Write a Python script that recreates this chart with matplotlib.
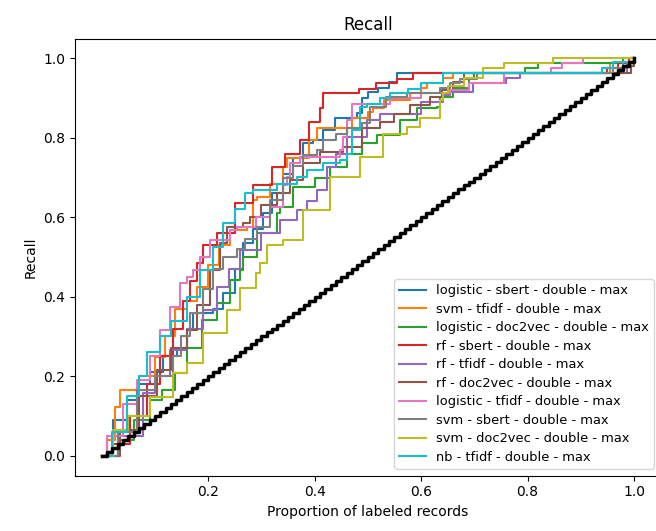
import numpy as np
import matplotlib
matplotlib.use("Agg")
import matplotlib.pyplot as plt

# recall curves: (proportion of labeled records, recall) knots
labels = [
    "logistic - sbert - double - max",
    "svm - tfidf - double - max",
    "logistic - doc2vec - double - max",
    "rf - sbert - double - max",
    "rf - tfidf - double - max",
    "rf - doc2vec - double - max",
    "logistic - tfidf - double - max",
    "svm - sbert - double - max",
    "svm - doc2vec - double - max",
    "nb - tfidf - double - max",
]

logistic_sbert_x = [0, 0.01, 0.022, 0.047, 0.066, 0.09, 0.116, 0.141, 0.16, 0.172, 0.19, 0.21, 0.228,
                    0.25, 0.266, 0.285, 0.304, 0.32, 0.341, 0.36, 0.379, 0.397, 0.416, 0.438, 0.48,
                    0.49, 0.5, 0.52, 0.54, 0.554, 0.96, 0.98, 1.0]
logistic_sbert_y = [0, 0.04, 0.09, 0.14, 0.18, 0.21, 0.25, 0.27, 0.32, 0.36, 0.36, 0.37, 0.41,
                    0.47, 0.535, 0.57, 0.61, 0.66, 0.71, 0.75, 0.786, 0.794, 0.82, 0.85, 0.862,
                    0.9, 0.916, 0.925, 0.94, 0.9625, 0.9625, 0.99, 1.0]

svm_tfidf_x = [0, 0.01, 0.025, 0.035, 0.05, 0.07, 0.1, 0.119, 0.138, 0.16, 0.179, 0.2, 0.22, 0.241,
               0.273, 0.285, 0.291, 0.316, 0.341, 0.348, 0.39, 0.404, 0.46, 0.47, 0.5, 0.51, 0.53,
               0.58, 0.6, 0.611, 0.641, 0.66, 0.945, 0.955, 0.99, 1.0]
svm_tfidf_y = [0, 0.04, 0.123, 0.165, 0.165, 0.2, 0.249, 0.3, 0.37, 0.39, 0.425, 0.48, 0.53, 0.568,
               0.576, 0.643, 0.652, 0.685, 0.727, 0.75, 0.794, 0.824, 0.824, 0.85, 0.865, 0.875, 0.895,
               0.912, 0.925, 0.937, 0.95, 0.9625, 0.9625, 0.9875, 1.0, 1.0]

logistic_doc2vec_x = [0, 0.03, 0.06, 0.09, 0.113, 0.125, 0.138, 0.16, 0.188, 0.216, 0.241, 0.26, 0.266,
                      0.291, 0.329, 0.335, 0.36, 0.4, 0.429, 0.46, 0.49, 0.517, 0.56, 0.592, 0.63,
                      0.636, 0.66, 0.69, 0.7, 0.795, 0.82, 0.96, 0.98, 1.0]
logistic_doc2vec_y = [0, 0.04, 0.09, 0.14, 0.165, 0.165, 0.208, 0.27, 0.341, 0.383, 0.442, 0.467, 0.5,
                      0.56, 0.61, 0.626, 0.677, 0.7, 0.727, 0.76, 0.786, 0.807, 0.845, 0.875, 0.878,
                      0.903, 0.925, 0.95, 0.9625, 0.975, 0.9875, 0.9875, 1.0, 1.0]

rf_sbert_x = [0, 0.02, 0.054, 0.085, 0.11, 0.134, 0.153, 0.166, 0.179, 0.19, 0.216, 0.25, 0.285,
              0.32, 0.345, 0.373, 0.39, 0.41, 0.416, 0.483, 0.516, 0.554, 0.585, 0.93, 0.95, 0.97,
              0.99, 1.0]
rf_sbert_y = [0, 0.03, 0.1, 0.18, 0.25, 0.32, 0.39, 0.44, 0.485, 0.53, 0.56, 0.636, 0.68,
              0.727, 0.76, 0.794, 0.84, 0.875, 0.912, 0.924, 0.937, 0.949, 0.9625, 0.9625, 0.975,
              0.9875, 1.0, 1.0]

rf_tfidf_x = [0, 0.03, 0.078, 0.1, 0.129, 0.16, 0.19, 0.216, 0.24, 0.26, 0.3, 0.335, 0.367, 0.385,
              0.404, 0.423, 0.44, 0.46, 0.498, 0.523, 0.573, 0.6, 0.641, 0.655, 0.692, 0.698, 0.76,
              0.786, 0.975, 0.987, 1.0]
rf_tfidf_y = [0, 0.05, 0.157, 0.2, 0.266, 0.32, 0.367, 0.425, 0.47, 0.518, 0.56, 0.593, 0.618, 0.64,
              0.668, 0.727, 0.76, 0.803, 0.845, 0.86, 0.86, 0.89, 0.907, 0.916, 0.916, 0.937, 0.95,
              0.9625, 0.9625, 0.9875, 1.0]

rf_doc2vec_x = [0, 0.035, 0.07, 0.104, 0.13, 0.16, 0.18, 0.204, 0.223, 0.235, 0.266, 0.279, 0.3,
                0.329, 0.354, 0.379, 0.41, 0.454, 0.49, 0.523, 0.55, 0.58, 0.617, 0.64, 0.66, 0.68,
                0.985, 0.995, 1.0]
rf_doc2vec_y = [0, 0.065, 0.15, 0.216, 0.27, 0.316, 0.38, 0.467, 0.535, 0.576, 0.585, 0.6, 0.63,
                0.66, 0.694, 0.736, 0.765, 0.777, 0.824, 0.84, 0.86, 0.882, 0.903, 0.92, 0.94, 0.9625,
                0.9625, 0.98, 1.0]

logistic_tfidf_x = [0, 0.01, 0.04, 0.066, 0.09, 0.11, 0.129, 0.147, 0.16, 0.172, 0.185, 0.204, 0.241,
                    0.254, 0.29, 0.316, 0.34, 0.348, 0.354, 0.373, 0.39, 0.448, 0.454, 0.46, 0.47,
                    0.52, 0.542, 0.6, 0.655, 0.69, 0.755, 0.845, 0.865, 0.905, 1.0]
logistic_tfidf_y = [0, 0.05, 0.13, 0.19, 0.25, 0.316, 0.375, 0.434, 0.45, 0.467, 0.5, 0.543, 0.568,
                    0.576, 0.6, 0.626, 0.68, 0.702, 0.736, 0.752, 0.752, 0.77, 0.803, 0.845, 0.886,
                    0.886, 0.9, 0.912, 0.92, 0.938, 0.9625, 0.975, 0.9875, 1.0, 1.0]

svm_sbert_x = [0, 0.03, 0.066, 0.1, 0.134, 0.15, 0.166, 0.19, 0.21, 0.228, 0.254, 0.27, 0.291, 0.316,
               0.341, 0.36, 0.379, 0.404, 0.416, 0.44, 0.46, 0.49, 0.504, 0.535, 0.573, 0.636, 0.655,
               0.673, 0.705, 0.93, 0.96, 0.98, 1.0]
svm_sbert_y = [0, 0.06, 0.165, 0.2, 0.25, 0.3, 0.358, 0.42, 0.47, 0.5, 0.52, 0.545, 0.576, 0.643,
               0.7, 0.73, 0.756, 0.77, 0.794, 0.81, 0.824, 0.837, 0.878, 0.903, 0.912, 0.925, 0.937,
               0.949, 0.9625, 0.9625, 0.975, 0.99, 1.0]

svm_doc2vec_x = [0, 0.022, 0.05, 0.091, 0.134, 0.16, 0.19, 0.235, 0.26, 0.29, 0.298, 0.31, 0.341,
                 0.379, 0.429, 0.448, 0.485, 0.529, 0.573, 0.598, 0.636, 0.641, 0.65, 0.68, 0.717,
                 0.755, 0.848, 1.0]
svm_doc2vec_y = [0, 0.065, 0.1, 0.148, 0.208, 0.233, 0.309, 0.367, 0.422, 0.46, 0.485, 0.53, 0.543,
                 0.618, 0.702, 0.702, 0.752, 0.81, 0.828, 0.85, 0.895, 0.912, 0.93, 0.95, 0.975,
                 0.9875, 1.0, 1.0]

nb_tfidf_x = [0, 0.02, 0.047, 0.07, 0.085, 0.11, 0.13, 0.16, 0.185, 0.21, 0.228, 0.25, 0.27, 0.285,
              0.33, 0.348, 0.367, 0.385, 0.416, 0.448, 0.46, 0.47, 0.485, 0.498, 0.523, 0.542, 0.576,
              0.6, 0.641, 0.92, 0.94, 0.96, 1.0]
nb_tfidf_y = [0, 0.06, 0.15, 0.2, 0.26, 0.3, 0.34, 0.4, 0.467, 0.526, 0.585, 0.62, 0.66, 0.668,
              0.685, 0.685, 0.702, 0.72, 0.736, 0.744, 0.76, 0.82, 0.878, 0.886, 0.9, 0.912, 0.924,
              0.938, 0.9625, 0.9625, 0.975, 0.99, 1.0]

curves = [
    (logistic_sbert_x, logistic_sbert_y),
    (svm_tfidf_x, svm_tfidf_y),
    (logistic_doc2vec_x, logistic_doc2vec_y),
    (rf_sbert_x, rf_sbert_y),
    (rf_tfidf_x, rf_tfidf_y),
    (rf_doc2vec_x, rf_doc2vec_y),
    (logistic_tfidf_x, logistic_tfidf_y),
    (svm_sbert_x, svm_sbert_y),
    (svm_doc2vec_x, svm_doc2vec_y),
    (nb_tfidf_x, nb_tfidf_y),
]

# random baseline: diagonal staircase, number of steps counted from the picture
random_steps = 100

xticks = [0.2, 0.4, 0.6, 0.8, 1.0]


def main() -> None:
    fig = plt.figure(figsize=(6.56, 5.31), dpi=100)
    ax = fig.add_axes([75 / 656, 55.5 / 531, 585.6 / 656, 437 / 531])

    for (x, y), label in zip(curves, labels):
        ax.plot(x, y, drawstyle="steps-post", linewidth=1.5, label=label)

    base = np.linspace(0, 1, random_steps + 1)
    ax.plot(base, base, drawstyle="steps-post", color="black", linewidth=2.5)

    ax.set_xticks(xticks)
    ax.set_title("Recall")
    ax.set_xlabel("Proportion of labeled records")
    ax.set_ylabel("Recall")
    ax.legend(loc="lower right", fontsize=9.4, labelspacing=0.42)

    fig.savefig("out.png", dpi=100)
    plt.close(fig)


if __name__ == "__main__":
    main()
